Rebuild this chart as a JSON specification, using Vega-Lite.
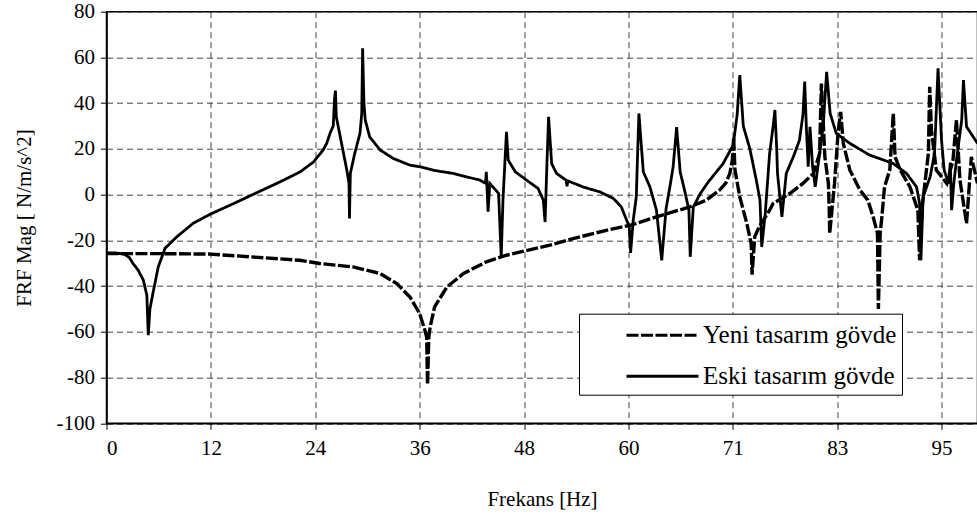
{
  "$schema": "https://vega.github.io/schema/vega-lite/v6.json",
  "autosize": "none",
  "width": 871,
  "height": 411.6,
  "padding": {"left": 106.5, "top": 11.7, "right": 0, "bottom": 98.7},
  "background": "white",
  "config": {
    "font": "Times New Roman, Liberation Serif, serif",
    "view": {"stroke": "black", "strokeWidth": 1.5},
    "axis": {
      "domainColor": "black",
      "domainWidth": 1.5,
      "tickColor": "black",
      "tickSize": 6,
      "labelColor": "black",
      "labelFont": "Times New Roman, Liberation Serif, serif",
      "labelFontSize": 21,
      "titleFont": "Times New Roman, Liberation Serif, serif",
      "titleFontSize": 21,
      "titleFontWeight": "normal",
      "titleColor": "black",
      "gridColor": "#444",
      "gridDash": [6, 4],
      "gridWidth": 1,
      "gridOpacity": 1
    },
    "legend": {
      "labelFont": "Times New Roman, Liberation Serif, serif",
      "labelFontSize": 25,
      "labelColor": "black"
    }
  },
  "datasets": {
    "eski": [
      {"f": 0, "v": -25.5}, {"f": 1, "v": -25.5}, {"f": 2, "v": -26}, {"f": 2.6, "v": -27.5}, {"f": 3.0, "v": -30},
      {"f": 3.6, "v": -33}, {"f": 4.2, "v": -37.4}, {"f": 4.6, "v": -44}, {"f": 4.76, "v": -61.5}, {"f": 4.95, "v": -50},
      {"f": 5.3, "v": -43}, {"f": 5.9, "v": -31.6}, {"f": 6.67, "v": -23.5}, {"f": 8.0, "v": -18.5}, {"f": 9.9, "v": -12.5},
      {"f": 11.8, "v": -8.6}, {"f": 14.5, "v": -3.9}, {"f": 17.1, "v": 0.8}, {"f": 19.8, "v": 5.6}, {"f": 22.1, "v": 10},
      {"f": 23.6, "v": 14.3}, {"f": 24.7, "v": 19.5}, {"f": 25.1, "v": 22.4}, {"f": 25.5, "v": 27}, {"f": 25.85, "v": 30},
      {"f": 26.0, "v": 42}, {"f": 26.1, "v": 45.5}, {"f": 26.2, "v": 34}, {"f": 26.8, "v": 22.4}, {"f": 27.4, "v": 10.7},
      {"f": 27.65, "v": 4.9}, {"f": 27.7, "v": -10.4}, {"f": 27.8, "v": 9.3}, {"f": 28.3, "v": 18}, {"f": 28.9, "v": 26.8},
      {"f": 29.1, "v": 35.5}, {"f": 29.2, "v": 64}, {"f": 29.35, "v": 40}, {"f": 29.5, "v": 32.6}, {"f": 30.0, "v": 25.3},
      {"f": 31.2, "v": 19.5}, {"f": 32.7, "v": 15.8}, {"f": 34.6, "v": 12.9}, {"f": 35.7, "v": 12.2}, {"f": 37.5, "v": 10.5},
      {"f": 39.5, "v": 9.3}, {"f": 42.6, "v": 6.3}, {"f": 43.2, "v": 5}, {"f": 43.3, "v": 10}, {"f": 43.5, "v": -7.5},
      {"f": 43.7, "v": 4.9}, {"f": 44.7, "v": 0.5}, {"f": 45.0, "v": -27.2}, {"f": 45.2, "v": -2.4}, {"f": 45.5, "v": 20},
      {"f": 45.6, "v": 27.5}, {"f": 45.8, "v": 15.1}, {"f": 46.6, "v": 10}, {"f": 47.9, "v": 6.3}, {"f": 49.2, "v": 2.7},
      {"f": 49.8, "v": -2.4}, {"f": 50.0, "v": -12}, {"f": 50.2, "v": 12.2}, {"f": 50.4, "v": 34}, {"f": 50.75, "v": 13.6},
      {"f": 51.3, "v": 9.3}, {"f": 52.4, "v": 6.3}, {"f": 52.5, "v": 3.7}, {"f": 52.6, "v": 6}, {"f": 54.3, "v": 3.4},
      {"f": 56.25, "v": 1.2}, {"f": 57.8, "v": -1.7}, {"f": 58.7, "v": -5.4}, {"f": 59.3, "v": -11.2}, {"f": 59.6, "v": -14.1},
      {"f": 59.75, "v": -25.5}, {"f": 60.05, "v": -11.2}, {"f": 60.4, "v": -1}, {"f": 60.55, "v": 18}, {"f": 60.7, "v": 35.5},
      {"f": 61.2, "v": 10}, {"f": 61.95, "v": 3.4}, {"f": 62.7, "v": -6.8}, {"f": 63.3, "v": -28.7}, {"f": 63.8, "v": -6},
      {"f": 64.3, "v": 5}, {"f": 64.6, "v": 12.2}, {"f": 65.0, "v": 29.5}, {"f": 65.4, "v": 10}, {"f": 65.9, "v": 2},
      {"f": 66.4, "v": -6.8}, {"f": 66.55, "v": -27.2}, {"f": 66.9, "v": -5.4}, {"f": 67.7, "v": 0.5}, {"f": 68.6, "v": 5.5},
      {"f": 70.3, "v": 13.6}, {"f": 71.45, "v": 21.7}, {"f": 71.9, "v": 35}, {"f": 72.2, "v": 52.3}, {"f": 72.6, "v": 30},
      {"f": 73.35, "v": 20}, {"f": 74.1, "v": 6}, {"f": 74.5, "v": -2.4}, {"f": 74.7, "v": -22.9}, {"f": 75.1, "v": -8.3},
      {"f": 75.6, "v": 18}, {"f": 76.0, "v": 30}, {"f": 76.2, "v": 37}, {"f": 76.4, "v": 20.9}, {"f": 76.5, "v": 9.3},
      {"f": 77.0, "v": -9.7}, {"f": 77.5, "v": 9.3}, {"f": 78.3, "v": 16.5}, {"f": 79.0, "v": 23.8}, {"f": 79.4, "v": 35},
      {"f": 79.6, "v": 49.4}, {"f": 79.8, "v": 28.2}, {"f": 80.0, "v": 12.2}, {"f": 80.2, "v": 29.7}, {"f": 80.5, "v": 12.2},
      {"f": 80.8, "v": 3.4}, {"f": 81.4, "v": 20.9}, {"f": 81.7, "v": 29.7}, {"f": 82.1, "v": 53.7}, {"f": 82.5, "v": 35.5},
      {"f": 83.2, "v": 26.8}, {"f": 84.75, "v": 22.4}, {"f": 87.0, "v": 17.3}, {"f": 89.7, "v": 13.6}, {"f": 91.2, "v": 9.3},
      {"f": 92.35, "v": 3.4}, {"f": 92.7, "v": -3.9}, {"f": 92.85, "v": -28.7}, {"f": 93.1, "v": -1}, {"f": 93.9, "v": 7.8},
      {"f": 94.4, "v": 18}, {"f": 94.8, "v": 55.2}, {"f": 95.2, "v": 23.8}, {"f": 95.5, "v": 10.7}, {"f": 96.0, "v": 4.9},
      {"f": 96.2, "v": 14}, {"f": 96.35, "v": -6.8}, {"f": 96.6, "v": 5}, {"f": 96.9, "v": 15}, {"f": 97.5, "v": 32.6},
      {"f": 97.7, "v": 50.1}, {"f": 98.05, "v": 29.7}, {"f": 99.3, "v": 22.4}
    ],
    "yeni": [
      {"f": 0, "v": -25.8}, {"f": 6, "v": -25.8}, {"f": 11.8, "v": -26}, {"f": 16.4, "v": -27.2}, {"f": 22.0, "v": -28.7},
      {"f": 24.3, "v": -30.1}, {"f": 28.1, "v": -31.6}, {"f": 31.2, "v": -34.5}, {"f": 33.1, "v": -38.9}, {"f": 34.6, "v": -44.8},
      {"f": 35.7, "v": -52}, {"f": 36.3, "v": -59.3}, {"f": 36.5, "v": -62.3}, {"f": 36.6, "v": -83}, {"f": 36.75, "v": -62},
      {"f": 36.9, "v": -57.9}, {"f": 37.4, "v": -49.1}, {"f": 38.8, "v": -40.4}, {"f": 40.7, "v": -34.5}, {"f": 43.3, "v": -29.4},
      {"f": 45.6, "v": -26.5}, {"f": 50.55, "v": -22.1}, {"f": 53.2, "v": -19.2}, {"f": 57.0, "v": -15.6}, {"f": 59.7, "v": -13.4},
      {"f": 62.7, "v": -9.7}, {"f": 66.5, "v": -5.4}, {"f": 68.4, "v": -2.4}, {"f": 69.9, "v": 2}, {"f": 70.6, "v": 5},
      {"f": 71.07, "v": 9.3}, {"f": 71.35, "v": 15.1}, {"f": 71.5, "v": 25}, {"f": 71.65, "v": 10.7}, {"f": 72.2, "v": -1},
      {"f": 73.0, "v": -12.6}, {"f": 73.5, "v": -21.4}, {"f": 73.6, "v": -35}, {"f": 73.9, "v": -18.5}, {"f": 74.4, "v": -14.1},
      {"f": 75.6, "v": -6.8}, {"f": 76.0, "v": -3.9}, {"f": 77.9, "v": 0.5}, {"f": 79.4, "v": 4.9}, {"f": 80.6, "v": 9.3},
      {"f": 81.3, "v": 18}, {"f": 81.5, "v": 48.6}, {"f": 81.9, "v": 16.5}, {"f": 82.3, "v": 4.9}, {"f": 82.4, "v": -6.8},
      {"f": 82.45, "v": -17}, {"f": 83.0, "v": 4.9}, {"f": 83.4, "v": 26.8}, {"f": 83.7, "v": 36.2}, {"f": 84.0, "v": 22.4},
      {"f": 84.75, "v": 10.7}, {"f": 85.9, "v": 2}, {"f": 86.8, "v": -2.4}, {"f": 87.4, "v": -9.7}, {"f": 87.9, "v": -17},
      {"f": 88.0, "v": -50}, {"f": 88.2, "v": -17}, {"f": 88.4, "v": -9.7}, {"f": 88.7, "v": 3.4}, {"f": 89.3, "v": 10.7},
      {"f": 89.7, "v": 35.5}, {"f": 89.9, "v": 16.5}, {"f": 90.5, "v": 10.7}, {"f": 91.6, "v": 3.4}, {"f": 92.5, "v": -6.8},
      {"f": 92.7, "v": -28.7}, {"f": 93.0, "v": -5}, {"f": 93.3, "v": 4.9}, {"f": 93.7, "v": 18}, {"f": 93.85, "v": 47.2},
      {"f": 94.05, "v": 28.2}, {"f": 94.6, "v": 10.7}, {"f": 95.8, "v": 4.9}, {"f": 96.5, "v": 15}, {"f": 96.9, "v": 32.6},
      {"f": 97.3, "v": 6.3}, {"f": 98.05, "v": -12.6}, {"f": 98.6, "v": 16.5}, {"f": 99.3, "v": 4.9}
    ]
  },
  "layer": [
    {
      "data": {"name": "yeni"},
      "transform": [{"calculate": "'Yeni tasarım gövde'", "as": "s"}],
      "mark": {"type": "line", "color": "black", "strokeWidth": 3.4, "clip": true},
      "encoding": {
        "x": {"field": "f", "type": "quantitative"},
        "y": {"field": "v", "type": "quantitative"},
        "strokeDash": {"field": "s", "type": "nominal"}
      }
    },
    {
      "data": {"name": "eski"},
      "transform": [{"calculate": "'Eski tasarım gövde'", "as": "s"}],
      "mark": {"type": "line", "color": "black", "strokeWidth": 2.8, "clip": true},
      "encoding": {
        "x": {
          "field": "f", "type": "quantitative",
          "scale": {"domain": [0, 99.3], "nice": false, "zero": false},
          "axis": {
            "values": [0, 11.9, 23.8, 35.7, 47.6, 59.5, 71.4, 83.3, 95.2],
            "format": ".0f",
            "title": "Frekans [Hz]",
            "labelPadding": 8,
            "titlePadding": 30,
            "grid": true
          }
        },
        "y": {
          "field": "v", "type": "quantitative",
          "scale": {"domain": [-100, 80], "nice": false, "zero": false},
          "axis": {
            "values": [-100, -80, -60, -40, -20, 0, 20, 40, 60, 80],
            "labelExpr": "'' + datum.value",
            "title": "FRF Mag [ N/m/s^2]",
            "labelPadding": 6,
            "titlePadding": 22,
            "grid": true
          }
        },
        "strokeDash": {
          "field": "s", "type": "nominal",
          "scale": {"domain": ["Yeni tasarım gövde", "Eski tasarım gövde"], "range": [[12, 2.5], [1, 0]]},
          "legend": {
            "title": null,
            "orient": "none",
            "legendX": 472.5,
            "legendY": 302,
            "strokeColor": "black",
            "fillColor": "white",
            "padding": 5,
            "symbolType": "M-2.4,0H2.4",
            "symbolSize": 900,
            "symbolStrokeWidth": 3,
            "symbolStrokeColor": "black",
            "symbolOffset": 62,
            "labelOffset": 24,
            "labelLimit": 400,
            "rowPadding": 11,
            "encode": {
              "symbols": {
                "update": {
                  "strokeDash": {"signal": "datum.value == 'Yeni tasarım gövde' ? [6, 9] : [1, 0]"}
                }
              }
            }
          }
        }
      }
    }
  ]
}
